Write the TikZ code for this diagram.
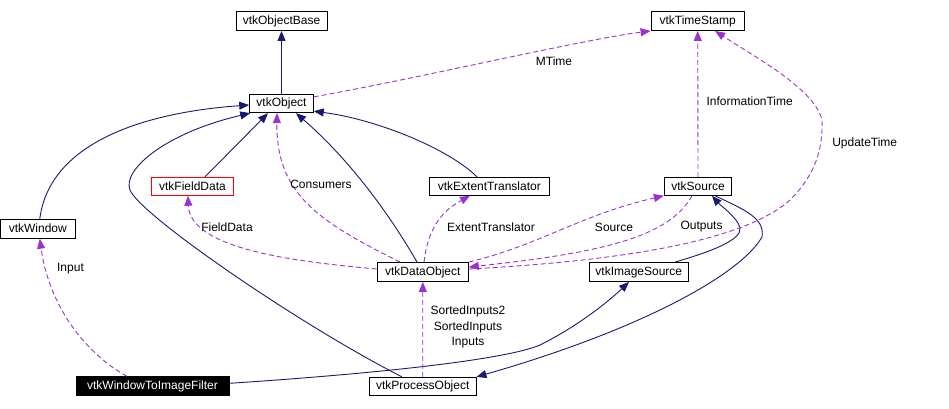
\documentclass[tikz,border=0pt]{standalone}
\usepackage{fontspec}
\setmainfont{Liberation Sans}
\usetikzlibrary{arrows.meta}
\definecolor{navy}{RGB}{25,25,112}
\definecolor{orchid}{RGB}{154,50,205}
\begin{document}
\begin{tikzpicture}[x=1pt,y=-1pt,
  font=\fontsize{12}{15.7}\selectfont,
  cls/.style={draw=black, line width=0.9pt, fill=white, inner sep=0pt, minimum height=19pt, anchor=center},
  inh/.style={draw=navy, line width=0.9pt, -{Triangle[length=10pt,width=8pt]}},
  usage/.style={draw=orchid, line width=0.9pt, dash pattern=on 5pt off 3pt, -{Triangle[length=10pt,width=8pt]}},
  lbl/.style={inner sep=0pt, anchor=center}
]
\useasboundingbox (0,0) rectangle (949,408);

% classes
\node[cls, minimum width=91pt] (objbase) at (281.5,21) {vtkObjectBase};
\node[cls, minimum width=63.6pt, minimum height=18.4pt] (obj) at (281.5,103.5) {vtkObject};
\node[cls, minimum width=93.3pt] (ts) at (697.7,21) {vtkTimeStamp};
\node[cls, draw=red, minimum width=82.4pt, minimum height=18pt] (fd) at (192.5,186.3) {vtkFieldData};
\node[cls, minimum width=75pt] (win) at (37.8,228.7) {vtkWindow};
\node[cls, minimum width=120pt, minimum height=18pt] (et) at (489.3,186.3) {vtkExtentTranslator};
\node[cls, minimum width=91pt] (dobj) at (422.8,272) {vtkDataObject};
\node[cls, minimum width=67.4pt, minimum height=18pt] (src) at (698,186.3) {vtkSource};
\node[cls, minimum width=99pt] (isrc) at (638.8,272) {vtkImageSource};
\node[cls, fill=black, text=white, minimum width=153pt] (wtif) at (152.5,386.3) {vtkWindowToImageFilter};
\node[cls, minimum width=106.7pt, minimum height=18.4pt] (proc) at (422.7,386.5) {vtkProcessObject};

% inheritance
\draw[inh] (obj.north) -- (objbase.south);
\draw[inh] ([xshift=2pt]win.north) .. controls (50,140) and (150,112) .. ([yshift=-1.5pt]obj.west);
\draw[inh] ([xshift=-20.7pt]proc.north) .. controls (300,325) and (140,215) .. (130,190)
   .. controls (122,170) and (165,133) .. ([xshift=1pt]obj.south west);
\draw[inh] ([xshift=12.5pt]fd.north) -- ([xshift=-13.5pt]obj.south);
\draw[inh] ([xshift=-5.8pt]dobj.north) .. controls (390,215) and (350,160) .. ([xshift=14.5pt]obj.south);
\draw[inh] ([xshift=-12.3pt]et.north) .. controls (450,150) and (380,120) .. ([yshift=2pt]obj.south east);
\draw[inh] ([xshift=36.2pt]isrc.north) .. controls (710,252) and (742,240) .. (740,228)
   .. controls (738,218) and (720,205) .. ([xshift=14pt]src.south);
\draw[inh] ([xshift=17pt]src.south) .. controls (745,210) and (765,218) .. (762,237)
   .. controls (740,275) and (640,330) .. (proc.north east);
\draw[inh] ([yshift=3pt]wtif.east) .. controls (400,372) and (510,358) .. (540,345)
   .. controls (580,325) and (610,300) .. ([xshift=-9.8pt]isrc.south);

% usage
\draw[usage] ([yshift=-3pt]obj.north east) .. controls (420,78) and (580,40) .. (ts.south west);
\draw[usage] (src.north) -- (ts.south);
\draw[usage] ([yshift=3pt]dobj.east) .. controls (600,262) and (740,245) .. (790,200)
   .. controls (815,175) and (823,150) .. (822,120)
   .. controls (815,90) and (760,60) .. ([xshift=17.3pt]ts.south);
\draw[usage] ([xshift=-22.8pt]dobj.north) .. controls (320,222) and (276,195) .. ([xshift=-4.5pt]obj.south);
\draw[usage] ([yshift=3pt]dobj.west) .. controls (300,262) and (190,250) .. ([xshift=-4.5pt]fd.south);
\draw[usage] ([xshift=1.2pt]dobj.north) .. controls (428,230) and (440,212) .. ([xshift=-19.3pt]et.south);
\draw[usage] (dobj.north east) .. controls (540,245) and (580,215) .. (src.south west);
\draw[usage] ([xshift=-6pt]src.south) .. controls (670,235) and (610,252) .. ([yshift=5pt]dobj.east);
\draw[usage] ([xshift=-25.5pt]wtif.north) .. controls (80,350) and (48,300) .. ([xshift=2pt]win.south);
\draw[usage] (proc.north) -- (dobj.south);

% labels
\node[lbl] at (554,61) {MTime};
\node[lbl] at (749.7,101.3) {InformationTime};
\node[lbl] at (864.7,143) {UpdateTime};
\node[lbl] at (321,184.5) {Consumers};
\node[lbl] at (227,227) {FieldData};
\node[lbl] at (491,227) {ExtentTranslator};
\node[lbl] at (614,227) {Source};
\node[lbl] at (701.5,227) {Outputs};
\node[lbl] at (70.5,269) {Input};
\node[lbl, align=center] at (468,327) {SortedInputs2\\SortedInputs\\Inputs};
\end{tikzpicture}
\end{document}
